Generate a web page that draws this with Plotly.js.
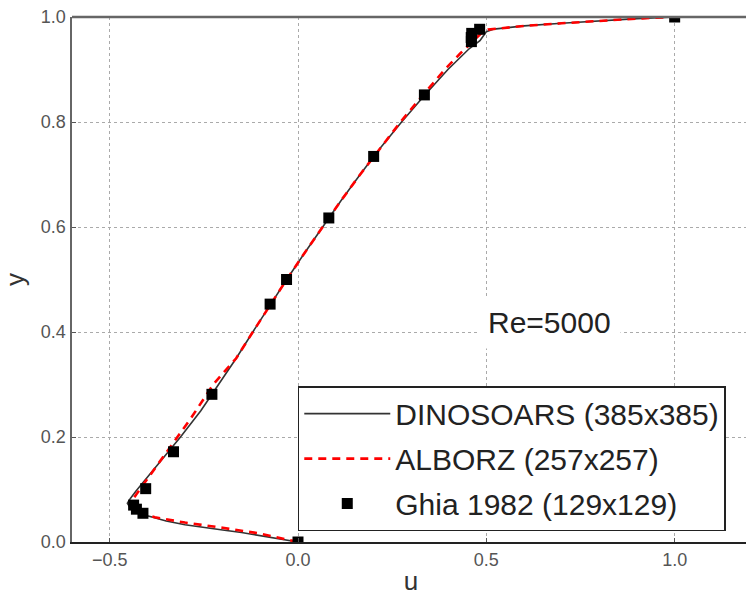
<!DOCTYPE html>
<html>
<head>
<meta charset="utf-8">
<script src="https://cdn.plot.ly/plotly-3.0.1.min.js"></script>
<style>
html, body { margin: 0; padding: 0; overflow: hidden; background: #fff; }
#chart { width: 752px; height: 596px; }
</style>
</head>
<body>
<div id="chart"></div>
<script>
// DINOSOARS (385x385) - solid line
const dinoU = [0, -0.05, -0.1, -0.15, -0.2, -0.25, -0.3, -0.35, -0.4, -0.43, -0.447, -0.453, -0.445, -0.43, -0.37, -0.312, -0.258, -0.21, -0.164, -0.12, -0.076, -0.03, 0.017, 0.065, 0.114, 0.165, 0.218, 0.275, 0.335, 0.398, 0.455, 0.483, 0.493, 0.5, 0.52, 0.6, 0.7, 0.8, 0.9, 1.0];
const dinoY = [0, 0.006, 0.013, 0.018, 0.023, 0.028, 0.033, 0.04, 0.05, 0.059, 0.067, 0.074, 0.083, 0.097, 0.15, 0.2, 0.25, 0.3, 0.35, 0.4, 0.45, 0.5, 0.55, 0.6, 0.65, 0.7, 0.75, 0.8, 0.85, 0.9, 0.94, 0.955, 0.965, 0.972, 0.977, 0.983, 0.988, 0.993, 0.997, 1.0];

// ALBORZ (257x257) - red dashed line
const alborzU = [0, -0.1, -0.2, -0.3, -0.38, -0.42, -0.44, -0.445, -0.43, -0.41, -0.39, -0.32, -0.285, -0.225, -0.164, -0.12, -0.076, -0.03, 0.017, 0.065, 0.114, 0.165, 0.218, 0.272, 0.33, 0.39, 0.43, 0.465, 0.485, 0.505, 0.6, 0.7, 0.8, 0.9, 1.0];
const alborzY = [0, 0.016, 0.027, 0.037, 0.047, 0.056, 0.066, 0.074, 0.09, 0.11, 0.13, 0.2, 0.235, 0.3, 0.35, 0.4, 0.45, 0.5, 0.55, 0.6, 0.65, 0.7, 0.75, 0.8, 0.85, 0.9, 0.93, 0.955, 0.968, 0.976, 0.983, 0.988, 0.993, 0.997, 1.0];

// Ghia 1982 (129x129) reference points
const ghiaU = [1.0, 0.48223, 0.4612, 0.45992, 0.46036, 0.33556, 0.20087, 0.08183, -0.03039, -0.07404, -0.22855, -0.3305, -0.40435, -0.43643, -0.42901, -0.41165, 0.0];
const ghiaY = [1.0, 0.9766, 0.9688, 0.9609, 0.9531, 0.8516, 0.7344, 0.6172, 0.5, 0.4531, 0.2813, 0.1719, 0.1016, 0.0703, 0.0625, 0.0547, 0.0];

const xTicks = [-0.5, 0.0, 0.5, 1.0];
const xTickText = ['\u22120.5', '0.0', '0.5', '1.0'];
const yTicks = [0.0, 0.2, 0.4, 0.6, 0.8, 1.0];
const yTickText = ['0.0', '0.2', '0.4', '0.6', '0.8', '1.0'];

const FONT = 'Liberation Sans, Arial, sans-serif';

const traces = [
  {
    x: dinoU, y: dinoY, type: 'scatter', mode: 'lines',
    name: 'DINOSOARS (385x385)', legendgroup: 'a',
    line: { color: '#333333', width: 1.6 }
  },
  {
    x: alborzU, y: alborzY, type: 'scatter', mode: 'lines',
    name: 'ALBORZ (257x257)', legendgroup: 'b',
    line: { color: '#ff0000', width: 2.6, dash: '8px,6px' }
  },
  {
    x: ghiaU, y: ghiaY, type: 'scatter', mode: 'markers',
    name: 'Ghia 1982 (129x129)', legendgroup: 'c',
    marker: { symbol: 'square', size: 11, color: '#000000' }
  }
];

const layout = {
  width: 752, height: 596,
  margin: { l: 72, r: 2, t: 17, b: 54 },
  paper_bgcolor: '#ffffff', plot_bgcolor: '#ffffff',
  font: { family: FONT, color: '#444' },
  showlegend: true,
  legend: {
    x: 0.333, y: 0.297, xanchor: 'left', yanchor: 'top',
    bgcolor: '#ffffff', bordercolor: '#222', borderwidth: 1.5,
    font: { family: FONT, size: 30, color: '#222' },
    traceorder: 'grouped', tracegroupgap: 3, itemwidth: 86
  },
  xaxis: {
    range: [-0.6, 1.2],
    tickvals: xTicks, ticktext: xTickText,
    tickfont: { family: FONT, size: 18, color: '#555' },
    ticks: 'inside', ticklen: 4, tickcolor: '#555',
    showgrid: true, gridcolor: '#aaaaaa', griddash: 'dot', gridwidth: 1,
    showline: true, linecolor: '#222', linewidth: 2,
    zeroline: false,
    title: { text: 'u', font: { family: FONT, size: 26, color: '#333' }, standoff: 8 }
  },
  yaxis: {
    range: [0, 1],
    tickvals: yTicks, ticktext: yTickText,
    tickfont: { family: FONT, size: 18, color: '#555' },
    ticks: 'inside', ticklen: 4, tickcolor: '#555',
    showgrid: true, gridcolor: '#aaaaaa', griddash: 'dot', gridwidth: 1,
    showline: true, linecolor: '#666', linewidth: 2.5,
    zeroline: false,
    title: { text: 'y', font: { family: FONT, size: 26, color: '#333' }, standoff: 10 }
  },
  shapes: [
    { type: 'line', xref: 'paper', yref: 'paper', x0: 0, x1: 1, y0: 1, y1: 1,
      line: { color: '#666', width: 2.5 } }
  ],
  annotations: [
    { x: 0.668, y: 0.419, xref: 'x', yref: 'y', text: 'Re=5000', showarrow: false,
      font: { family: FONT, size: 30, color: '#222' },
      bgcolor: '#ffffff', borderpad: 9 }
  ]
};

Plotly.newPlot('chart', traces, layout, { displayModeBar: false, staticPlot: true });
</script>
</body>
</html>
